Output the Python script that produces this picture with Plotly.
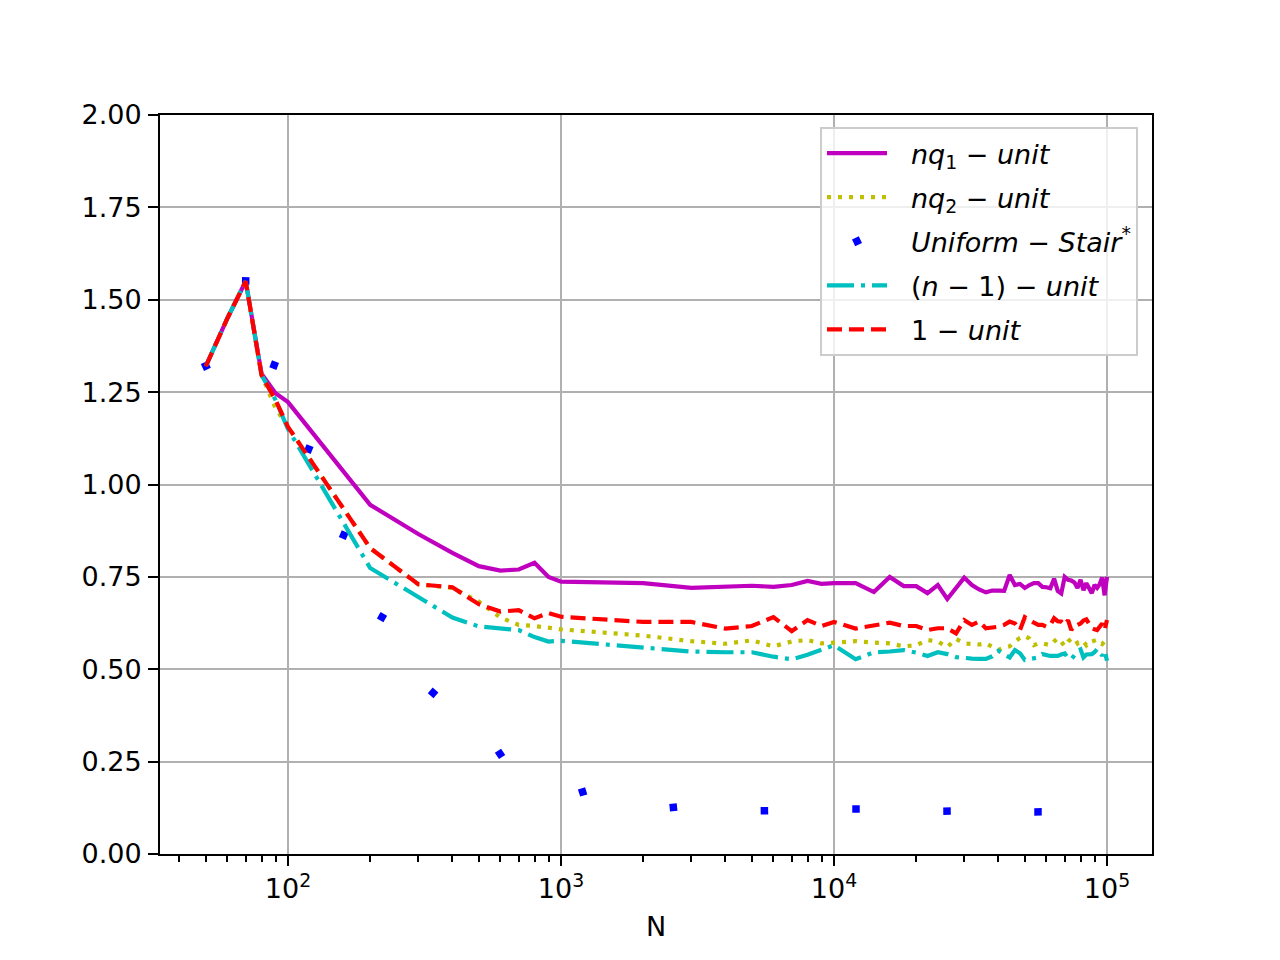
import math
import plotly.graph_objects as go

# ---------------- data ----------------
N = [50, 60, 70, 80, 90, 100,
     200, 300, 400, 500, 600, 700, 800, 900, 1000,
     2000, 3000, 4000, 5000, 6000, 7000, 8000, 9000, 10000,
     12000, 14000, 16000, 18000, 20000, 22000, 24000, 26000, 28000, 30000,
     32000, 34000, 36000, 38000, 40000, 42000, 44000, 46000, 48000, 50000,
     52000, 54000, 56000, 58000, 60000, 62000, 64000, 66000, 68000, 70000,
     72000, 74000, 76000, 78000, 80000, 82000, 84000, 86000, 88000, 90000,
     92000, 94000, 96000, 98000, 100000]

nq1_unit = [1.32, 1.45, 1.55, 1.30, 1.247, 1.223,
            0.945, 0.866, 0.815, 0.779, 0.767, 0.770, 0.788, 0.750, 0.737,
            0.733, 0.720, 0.723, 0.726, 0.723, 0.728, 0.739, 0.731, 0.733,
            0.733, 0.709, 0.750, 0.725, 0.725, 0.706, 0.728, 0.690, 0.720, 0.748,
            0.728, 0.716, 0.708, 0.713, 0.713, 0.712, 0.755, 0.728, 0.731, 0.720,
            0.728, 0.733, 0.733, 0.723, 0.722, 0.719, 0.745, 0.712, 0.705, 0.750,
            0.742, 0.740, 0.735, 0.720, 0.742, 0.714, 0.733, 0.720, 0.706, 0.728,
            0.720, 0.730, 0.748, 0.700, 0.750]

nq2_unit = [1.32, 1.45, 1.55, 1.296, 1.207, 1.156,
            0.828, 0.730, 0.720, 0.683, 0.640, 0.620, 0.617, 0.613, 0.608,
            0.591, 0.576, 0.569, 0.578, 0.562, 0.575, 0.579, 0.570, 0.572,
            0.576, 0.572, 0.570, 0.562, 0.565, 0.579, 0.575, 0.560, 0.582, 0.570,
            0.567, 0.567, 0.570, 0.560, 0.552, 0.559, 0.562, 0.575, 0.585, 0.590,
            0.583, 0.565, 0.570, 0.570, 0.567, 0.565, 0.575, 0.584, 0.575, 0.562,
            0.575, 0.582, 0.584, 0.570, 0.577, 0.575, 0.565, 0.575, 0.575, 0.577,
            0.580, 0.572, 0.568, 0.575, 0.570]

n_minus_1_unit = [1.32, 1.45, 1.55, 1.296, 1.229, 1.150,
                  0.774, 0.696, 0.640, 0.616, 0.612, 0.606, 0.587, 0.575, 0.577,
                  0.560, 0.548, 0.546, 0.546, 0.534, 0.527, 0.539, 0.554, 0.565,
                  0.527, 0.546, 0.548, 0.552, 0.545, 0.536, 0.546, 0.541, 0.533, 0.530,
                  0.529, 0.528, 0.528, 0.535, 0.550, 0.540, 0.532, 0.552, 0.543, 0.525,
                  0.527, 0.530, 0.532, 0.541, 0.538, 0.536, 0.536, 0.536, 0.540, 0.543,
                  0.530, 0.527, 0.538, 0.550, 0.554, 0.532, 0.540, 0.541, 0.541, 0.546,
                  0.554, 0.550, 0.536, 0.550, 0.523]

one_unit = [1.32, 1.45, 1.55, 1.296, 1.229, 1.156,
            0.828, 0.730, 0.722, 0.676, 0.656, 0.660, 0.638, 0.652, 0.642,
            0.628, 0.628, 0.610, 0.617, 0.641, 0.603, 0.633, 0.617, 0.628,
            0.610, 0.620, 0.626, 0.617, 0.617, 0.606, 0.611, 0.611, 0.597, 0.633,
            0.620, 0.629, 0.611, 0.613, 0.615, 0.620, 0.629, 0.624, 0.606, 0.641,
            0.632, 0.626, 0.620, 0.620, 0.615, 0.620, 0.638, 0.630, 0.629, 0.620,
            0.633, 0.606, 0.620, 0.620, 0.624, 0.632, 0.635, 0.620, 0.611, 0.608,
            0.606, 0.615, 0.624, 0.606, 0.633]

N_stair = [50, 70, 89, 119, 160, 221, 340, 598, 1200, 2580, 5560, 12040, 25940, 55880]
uniform_stair = [1.321, 1.551, 1.323, 1.096, 0.863, 0.641, 0.436, 0.271,
                 0.168, 0.126, 0.117, 0.122, 0.116, 0.114]

y_ticks = [0.0, 0.25, 0.5, 0.75, 1.0, 1.25, 1.5, 1.75, 2.0]
x_major = [100, 1000, 10000, 100000]
x_major_text = ["10<sup>2</sup>", "10<sup>3</sup>", "10<sup>4</sup>", "10<sup>5</sup>"]

names = ["<i>nq</i><sub>1</sub> − <i>unit</i>",
         "<i>nq</i><sub>2</sub> − <i>unit</i>",
         "<i>Uniform</i> − <i>Stair</i><sup>*</sup>",
         "(<i>n</i> − 1) − <i>unit</i>",
         "1 − <i>unit</i>"]

# ---------------- layout constants ----------------
W, H = 1280, 960
ML, MR, MT, MB = 160, 128, 115, 106
XR = [1.53114, 5.16484]
YR = [0, 2]
FONT = "DejaVu Sans"
FS = 27
GAP = "\u2002\u2009"   # space between legend sample and its label

LW = 4.2
fig = go.Figure()
fig.add_trace(go.Scatter(x=N, y=nq1_unit, mode="lines", name=GAP + names[0], legendgroup="a",
                         line=dict(color="#bf00bf", width=LW)))
fig.add_trace(go.Scatter(x=N, y=nq2_unit, mode="lines", name=GAP + names[1], legendgroup="b",
                         line=dict(color="#bfbf00", width=LW, dash="4px,7px")))

# marker orientation follows the direction of the underlying curve
pw = W - ML - MR
ph = H - MT - MB
sx = pw / (XR[1] - XR[0])
sy = ph / (YR[1] - YR[0])
pts = [(math.log10(n) * sx, -v * sy) for n, v in zip(N_stair, uniform_stair)]
angles = []
for i in range(len(pts)):
    a = pts[max(i - 1, 0)]
    b = pts[min(i + 1, len(pts) - 1)]
    angles.append(-math.degrees(math.atan2(b[1] - a[1], b[0] - a[0])))
fig.add_trace(go.Scatter(x=N_stair, y=uniform_stair, mode="markers", name=GAP + names[2],
                         legendgroup="c",
                         marker=dict(color="#0000ff", symbol="square", size=7.5,
                                     angle=angles, line=dict(width=0))))
fig.add_trace(go.Scatter(x=N, y=n_minus_1_unit, mode="lines", name=GAP + names[3],
                         legendgroup="d",
                         line=dict(color="#00bfbf", width=LW, dash="27px,7px,4px,7px")))
fig.add_trace(go.Scatter(x=N, y=one_unit, mode="lines", name=GAP + names[4], legendgroup="e",
                         line=dict(color="#ff0000", width=LW, dash="15px,7px")))

minor_vals = [k * 10 ** d for d in range(1, 6) for k in range(2, 10)
              if XR[0] <= math.log10(k * 10 ** d) <= XR[1]]

fig.update_layout(
    width=W, height=H,
    margin=dict(l=ML, r=MR, t=MT, b=MB, pad=0),
    paper_bgcolor="white", plot_bgcolor="white",
    font=dict(family=FONT, size=FS, color="black"),
    showlegend=True,
    legend=dict(x=(1138 - ML) / pw, y=(H - MB - 127) / ph, xanchor="right", yanchor="top",
                bgcolor="rgba(255,255,255,0.8)", bordercolor="#cccccc", borderwidth=2,
                font=dict(family=FONT, size=FS, color="black"),
                itemwidth=60, traceorder="grouped", tracegroupgap=6),
    xaxis=dict(type="log", range=XR, showgrid=True, gridcolor="#b0b0b0", gridwidth=2,
               tickmode="array", tickvals=x_major, ticktext=x_major_text,
               ticks="outside", ticklen=10, tickwidth=2, tickcolor="black",
               showline=True, linecolor="black", linewidth=2, mirror=True,
               zeroline=False, ticklabelstandoff=0,
               minor=dict(tickvals=minor_vals, ticks="outside", ticklen=5.5,
                          tickwidth=1.7, tickcolor="black", showgrid=False),
               title=dict(text="N", font=dict(family=FONT, size=FS), standoff=14)),
    yaxis=dict(range=YR, showgrid=True, gridcolor="#b0b0b0", gridwidth=2,
               tickmode="array", tickvals=y_ticks,
               ticktext=[f"{v:.2f}" for v in y_ticks],
               ticks="outside", ticklen=10, tickwidth=2, tickcolor="black",
               showline=True, linecolor="black", linewidth=2, mirror=True,
               zeroline=False, ticklabelstandoff=1),
)

fig.write_html("out.html", config={"displayModeBar": False},
               post_script="document.body.style.margin='0';")
